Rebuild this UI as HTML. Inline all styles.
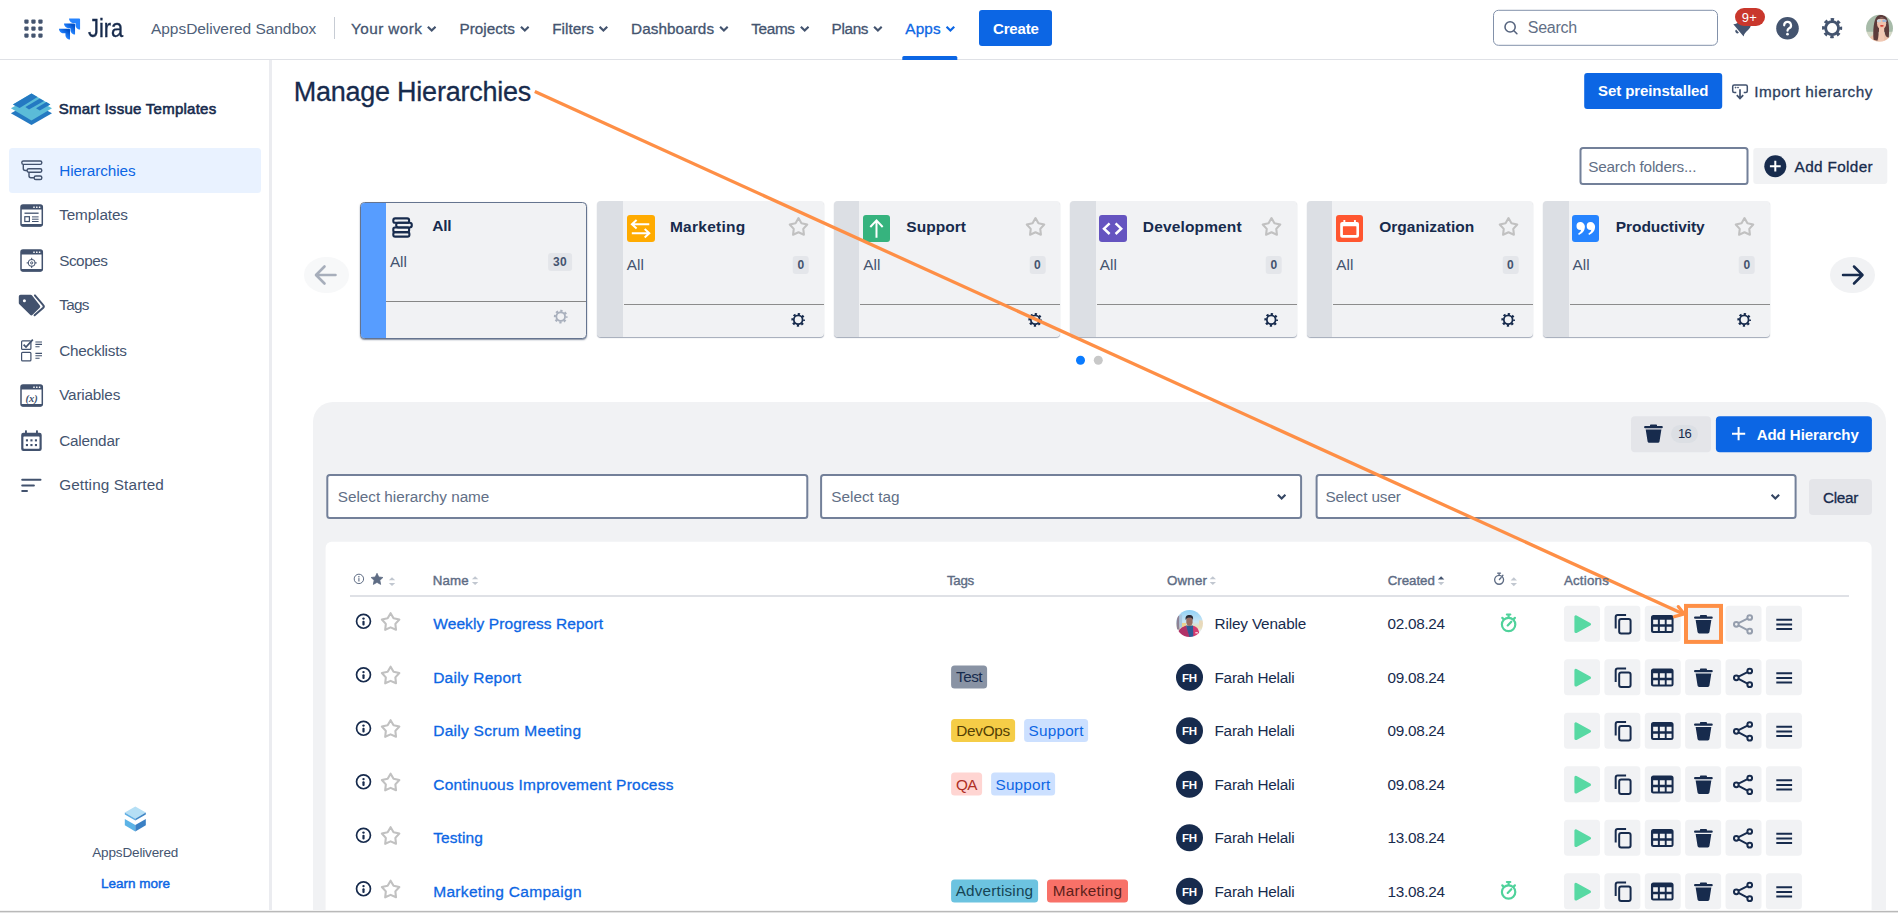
<!DOCTYPE html>
<html><head><meta charset="utf-8"><title>Manage Hierarchies</title>
<style>
*{box-sizing:border-box;margin:0;padding:0}
html,body{width:1898px;height:913px;overflow:hidden;background:#fff}
body{position:relative;font-family:"Liberation Sans",sans-serif;color:#172b4d}
.t{position:absolute;white-space:pre;line-height:20px;height:20px;display:block}
.a{position:absolute}
.btn{position:absolute;border-radius:3px}
.ab{position:absolute;width:36px;height:36px;border-radius:3.5px;background:#f1f2f4}
.ab svg{position:absolute;left:0;top:0;width:36px;height:36px}
.inp{position:absolute;background:#fff;border:2px solid #738099;border-radius:3.5px}
.card{position:absolute;top:201px;width:226.4px;height:135.7px;background:#f1f2f4;border-radius:4px;box-shadow:0 1px 1px rgba(9,30,66,.38);overflow:hidden}
.card .bar{position:absolute;left:0;top:0;bottom:0;width:25.5px;background:#dcdfe4}
.card .dv{position:absolute;left:26.5px;right:0;top:103px;height:1.3px;background:#8c8c8c}
.cic{position:absolute;left:29.1px;top:13.8px;width:27.2px;height:27.2px;border-radius:3px}
.cic svg{position:absolute;left:0;top:0;width:27.2px;height:27.2px}
.cnt{position:absolute;background:#e4e6ea;border-radius:3px}
.tag{position:absolute;height:22.6px;border-radius:3.5px}
svg{overflow:visible}
</style></head><body>
<svg width="0" height="0" style="position:absolute"><defs>
<linearGradient id="jg1" x1="0.9" y1="0.1" x2="0.45" y2="0.6"><stop offset="0.18" stop-color="#0052cc"/><stop offset="1" stop-color="#2684ff"/></linearGradient>
<symbol id="i-play" viewBox="0 0 36 36"><path d="M11.9 11 L11.9 25.8 L25.5 18.4 Z" fill="#57d9a3" stroke="#57d9a3" stroke-width="3" stroke-linejoin="round"/></symbol>
<symbol id="i-copy" viewBox="0 0 36 36"><path d="M21.7 9.1 H13.3 a2 2 0 0 0 -2 2 V22.8" fill="none" stroke="#172b4d" stroke-width="2"/><rect x="14.8" y="13.1" width="11.4" height="14.6" rx="2" fill="none" stroke="#172b4d" stroke-width="2"/></symbol>
<symbol id="i-table" viewBox="0 0 36 36"><path fill-rule="evenodd" fill="#172b4d" d="M8.7 9.2 h17.6 a2.5 2.5 0 0 1 2.5 2.5 v13.1 a2.5 2.5 0 0 1 -2.5 2.5 h-17.6 a2.5 2.5 0 0 1 -2.5 -2.5 v-13.1 a2.5 2.5 0 0 1 2.5 -2.5 z M8.4 14 h4.7 v4.4 h-4.7 z M15.1 14 h4.9 v4.4 h-4.9 z M21.9 14 h4.9 v4.4 h-4.9 z M8.4 20.9 h4.7 v4.3 h-4.7 z M15.1 20.9 h4.9 v4.3 h-4.9 z M21.9 20.9 h4.9 v4.3 h-4.9 z"/></symbol>
<symbol id="i-trash" viewBox="0 0 36 36"><path fill="#172b4d" d="M9.9 10.7 h16.7 a1 1 0 0 1 1 1 v0.3 a1 1 0 0 1 -1 1 h-16.7 a1 1 0 0 1 -1 -1 v-0.3 a1 1 0 0 1 1 -1 z M15.6 9.2 h5.4 a0.8 0.8 0 0 1 0.8 0.8 v0.7 h-7 v-0.7 a0.8 0.8 0 0 1 0.8 -0.8 z M10.5 14.3 h15.7 l-1.9 11.9 a1.6 1.6 0 0 1 -1.6 1.4 h-8.7 a1.6 1.6 0 0 1 -1.6 -1.4 z"/></symbol>
<symbol id="i-share" viewBox="0 0 36 36"><g fill="none" stroke="#172b4d" stroke-width="2"><circle cx="24.2" cy="11.7" r="2.35"/><circle cx="10.8" cy="18.5" r="2.35"/><circle cx="24.2" cy="25.4" r="2.35"/><path d="M13 17.4 L22 12.8 M13 19.6 L22 24.3"/></g></symbol>
<symbol id="i-menu" viewBox="0 0 36 36"><path fill="#172b4d" d="M10.4 12.9 h15.8 v2.1 h-15.8 z M10.4 17.6 h15.8 v2.1 h-15.8 z M10.4 22.2 h15.8 v2.1 h-15.8 z"/></symbol>
<symbol id="i-star" viewBox="-12 -12 24 24"><path d="M0.00 -9.20 L2.94 -4.05 L8.75 -2.84 L4.76 1.55 L5.41 7.44 L0.00 5.00 L-5.41 7.44 L-4.76 1.55 L-8.75 -2.84 L-2.94 -4.05 Z" fill="none" stroke="#c1c1c1" stroke-width="2.1" stroke-linejoin="round"/></symbol>
<symbol id="i-info" viewBox="-10 -10 20 20"><circle r="6.95" fill="none" stroke="#172b4d" stroke-width="1.7"/><circle cy="-2.7" r="1.2" fill="#172b4d"/><rect x="-1.1" y="-0.5" width="2.2" height="4.7" rx="1" fill="#172b4d"/></symbol>
<symbol id="i-watch" viewBox="-12 -12 24 24"><g fill="none" stroke="currentColor" stroke-width="2.2" stroke-linecap="round"><circle r="6.7"/><path d="M-1.7 -10 H1.7 M0 -10 V-7.4 M-0.9 0.9 L2.7 -2.8 M-6.3 -6.6 L-5.3 -5.6 M6.3 -6.6 L5.3 -5.6"/></g></symbol>
<symbol id="i-gear" viewBox="-10 -10 20 20"><g fill="none" stroke="currentColor"><circle r="4.6" stroke-width="1.9"/><circle r="6.1" stroke-width="2.2" stroke-dasharray="2.4 2.39" stroke-dashoffset="1.2"/></g></symbol>
<symbol id="i-chev" viewBox="0 0 10 7"><path d="M1 1.3 L5 5.2 L9 1.3" fill="none" stroke="currentColor" stroke-width="2.3"/></symbol>
</defs></svg>
<div class="a" style="left:0;top:0;width:1898px;height:59px;background:#fff;border-bottom:1px solid #dfe1e6;height:60px"></div>
<svg class="a" style="left:0;top:0" width="60" height="60" fill="#44546f"><rect x="24.3" y="19.4" width="4.3" height="4.3" rx="1.1"/><rect x="31.3" y="19.4" width="4.3" height="4.3" rx="1.1"/><rect x="38.3" y="19.4" width="4.3" height="4.3" rx="1.1"/><rect x="24.3" y="26.4" width="4.3" height="4.3" rx="1.1"/><rect x="31.3" y="26.4" width="4.3" height="4.3" rx="1.1"/><rect x="38.3" y="26.4" width="4.3" height="4.3" rx="1.1"/><rect x="24.3" y="33.4" width="4.3" height="4.3" rx="1.1"/><rect x="31.3" y="33.4" width="4.3" height="4.3" rx="1.1"/><rect x="38.3" y="33.4" width="4.3" height="4.3" rx="1.1"/></svg>
<svg class="a" style="left:56px;top:16px;transform:translate(0.50px,0.10px);" width="26" height="26" viewBox="0 0 32 32"><g transform="scale(0.997)">
<path d="M28.04 3 H15.5 c0 3.11 2.54 5.65 5.65 5.65 h2.31 v2.23 c0 3.11 2.53 5.64 5.64 5.64 V4.08 C29.1 3.49 28.61 3 28.04 3" fill="#2684ff"/>
<path d="M21.82 9.24 H9.29 c0 3.11 2.54 5.65 5.65 5.65 h2.31 v2.23 c0 3.11 2.53 5.64 5.64 5.64 V10.32 c0-.59-.49-1.08-1.07-1.08" fill="url(#jg1)"/>
<path d="M15.61 15.49 H3.08 c0 3.11 2.54 5.65 5.65 5.65 h2.31 v2.23 c0 3.11 2.53 5.64 5.64 5.64 V16.56 c0-.59-.49-1.07-1.07-1.07" fill="url(#jg1)"/></g></svg>
<div class="a" style="left:334px;top:17px;width:1px;height:22px;background:#c7ccd4"></div>
<svg class="a" style="left:426px;top:25px;transform:translate(0.90px,0.50px);color:#44546f" width="9.6" height="6.72"><use href="#i-chev"/></svg>
<svg class="a" style="left:520px;top:25px;transform:translate(0.00px,0.50px);color:#44546f" width="9.6" height="6.72"><use href="#i-chev"/></svg>
<svg class="a" style="left:598px;top:25px;transform:translate(0.60px,0.50px);color:#44546f" width="9.6" height="6.72"><use href="#i-chev"/></svg>
<svg class="a" style="left:719px;top:25px;transform:translate(0.10px,0.50px);color:#44546f" width="9.6" height="6.72"><use href="#i-chev"/></svg>
<svg class="a" style="left:799px;top:25px;transform:translate(0.90px,0.50px);color:#44546f" width="9.6" height="6.72"><use href="#i-chev"/></svg>
<svg class="a" style="left:873px;top:25px;transform:translate(0.10px,0.50px);color:#44546f" width="9.6" height="6.72"><use href="#i-chev"/></svg>
<svg class="a" style="left:945px;top:25px;transform:translate(0.60px,0.50px);color:#0c66e4" width="9.6" height="6.72"><use href="#i-chev"/></svg>
<div class="a" style="left:902px;top:56px;transform:translate(0.30px,0.00px);width:54.6px;height:3.5px;background:#0c66e4;border-radius:1.5px 1.5px 0 0"></div>
<div class="btn" style="left:979px;top:10px;width:73.2px;height:36px;background:#0c66e4"></div>
<div class="a" style="left:1493px;top:9px;transform:translate(0.00px,0.80px);width:225px;height:36.2px;border:1.2px solid #8291aa;border-radius:5.5px;background:#fff"></div>
<svg class="a" style="left:1500px;top:18px;" width="20" height="20" fill="none" stroke="#56647e" stroke-width="1.55" stroke-linecap="round"><circle cx="10.1" cy="8.9" r="5.1"/><path d="M13.9 12.7 L16.9 15.8"/></svg>
<svg class="a" style="left:1728px;top:14px;" width="30" height="30"><g transform="translate(14.3,13.1) rotate(50)" fill="#44546f"><path d="M-8 5 C-6.3 3 -6 0.5 -6 -2.5 C-6 -7 -3.3 -9.3 0 -9.3 C3.3 -9.3 6 -7 6 -2.5 C6 0.5 6.3 3 8 5 Z"/><path d="M-2.2 6.3 h4.4 a2.2 2.2 0 0 1 -4.4 0z"/></g></svg>
<div class="a" style="left:1735px;top:8px;width:30.2px;height:18px;border-radius:9px;background:#c9372c"></div>
<svg class="a" style="left:1775px;top:16px;" width="25" height="25"><circle cx="12.5" cy="12.2" r="11.3" fill="#44546f"/><path d="M9.2 9.3 a3.4 3.4 0 1 1 4.9 3 c-1.1 .6 -1.6 1.1 -1.6 2.4" fill="none" stroke="#fff" stroke-width="2.2" stroke-linecap="round"/><circle cx="12.5" cy="18.2" r="1.35" fill="#fff"/></svg>
<svg class="a" style="left:1820px;top:16px;transform:translate(0.10px,0.10px);color:#44546f" width="24" height="24" viewBox="-10 -10 20 20"><g fill="none" stroke="currentColor"><circle r="5.4" stroke-width="2.4"/><circle r="7.2" stroke-width="2.4" stroke-dasharray="2.83 2.825" stroke-dashoffset="1.41"/></g></svg>
<svg class="a" style="left:1866px;top:14px;transform:translate(0.00px,0.70px);" width="27" height="27.2" viewBox="0 0 27 27"><defs><clipPath id="av1"><circle cx="13.5" cy="13.5" r="13.45"/></clipPath><filter id="bl" x="-10%" y="-10%" width="120%" height="120%"><feGaussianBlur stdDeviation="0.45"/></filter></defs><g clip-path="url(#av1)"><g filter="url(#bl)">
<rect x="-2" y="-2" width="31" height="31" fill="#a7bba9"/><rect x="-2" y="17" width="31" height="12" fill="#d3d8c6"/>
<path d="M2 27 C3 22 7 19.5 12 19 L19 19 C22 20 24 22.5 25 27 Z" fill="#eabfa8"/>
<path d="M7.6 25 C6.8 16 7.6 5 11 1.6 C13.5 -0.2 17.5 -0.2 19.6 1.6 C23 5 23.6 14 22.8 22.5 C21 23.5 19 21 18.5 17 L12.6 17 C12.6 21 12 24.5 11.4 26 Z" fill="#5b3b3b"/>
<ellipse cx="15.6" cy="8.4" rx="4.6" ry="6" fill="#efc2ad"/>
<path d="M13 13 H18.2 V27 H13 Z" fill="#f1c8b3"/>
<path d="M10.6 4.6 C12 2.2 19 2 20.6 4.6 C19 3.8 12.4 3.8 10.6 4.6Z" fill="#5b3b3b"/>
<rect x="10.9" y="4.8" width="4.3" height="2.7" rx="1.2" fill="#c9d3dd"/><rect x="16.3" y="4.6" width="4.3" height="2.7" rx="1.2" fill="#9fb6d6"/>
<ellipse cx="15.9" cy="11" rx="1.9" ry=".85" fill="#d63a30"/>
</g></g></svg>
<div class="a" style="left:269px;top:60px;width:3px;height:853px;background:#ebecf0"></div>
<div class="a" style="left:9px;top:148px;width:252px;height:44.7px;background:#e9f2ff;border-radius:3.5px"></div><svg class="a" style="left:0;top:85px" width="60" height="50">
<path d="M10.9 28.3 L31.5 17 L52 28.3 L31.5 40.1 Z" fill="#2479c2"/>
<path d="M10.9 23.2 L31.5 12 L52 23.2 L31.5 35.5 Z" fill="#5bbcd8"/>
<path d="M12.9 19.4 L31.5 8.5 L50.3 19.4 L31.5 30 Z" fill="#5bbcd8"/>
<path d="M31.5 8.5 L37.5 12 L19.6 22.9 L12.9 19.4 Z" fill="#2479c2"/>
<path d="M39.8 13.6 L44 16 L29 24.4 L25.4 22 Z" fill="#2479c2"/>
<path d="M46.4 17.1 L50.3 19.4 L39.8 25.6 L36 23.3 Z" fill="#2479c2"/>
</svg>
<svg class="a" style="left:0;top:150px" width="60" height="45" fill="none" stroke="#42526e" stroke-width="1.4">
<rect x="21.8" y="11" width="20" height="3.4" rx="1.6"/><rect x="27.1" y="18.8" width="14.7" height="3.4" rx="1.6"/><rect x="34.2" y="26" width="7.6" height="3.5" rx="1.6"/>
<path d="M23.3 14.4 V18.5 a2 2 0 0 0 2 2 H27 M29 22.2 V25.8 a2 2 0 0 0 2 2 H34"/></svg>
<svg class="a" style="left:0;top:199.6px" width="60" height="30"><rect x="21" y="5.1" width="21.3" height="20.9" rx="2" fill="#fff" stroke="#42526e" stroke-width="1.5"/><path d="M21 7.1 a2 2 0 0 1 2 -2 h17.3 a2 2 0 0 1 2 2 v2.4 h-21.3z M21 24 h21.3 v.4 a2 2 0 0 1 -2 2 h-17.3 a2 2 0 0 1 -2 -2z" fill="#42526e"/><g fill="#fff"><rect x="33.2" y="6.4" width="1.6" height="1.5" rx=".4"/><rect x="36" y="6.4" width="1.6" height="1.5" rx=".4"/><rect x="38.8" y="6.4" width="1.6" height="1.5" rx=".4"/></g><g stroke="#42526e" fill="none"><path d="M24.5 13.2 H38.6" stroke-width="1.3"/><rect x="24.8" y="16.7" width="4.6" height="4.8" stroke-width="1.2"/><path d="M32 16.9 H38.6 M32 19.2 H38.6 M32 21.5 H38.6" stroke-width="1"/></g></svg>
<svg class="a" style="left:0;top:244.6px" width="60" height="30"><rect x="21" y="5.1" width="21.3" height="20.9" rx="2" fill="#fff" stroke="#42526e" stroke-width="1.5"/><path d="M21 7.1 a2 2 0 0 1 2 -2 h17.3 a2 2 0 0 1 2 2 v2.4 h-21.3z M21 24 h21.3 v.4 a2 2 0 0 1 -2 2 h-17.3 a2 2 0 0 1 -2 -2z" fill="#42526e"/><g fill="#fff"><rect x="33.2" y="6.4" width="1.6" height="1.5" rx=".4"/><rect x="36" y="6.4" width="1.6" height="1.5" rx=".4"/><rect x="38.8" y="6.4" width="1.6" height="1.5" rx=".4"/></g><g stroke="#42526e" fill="none" stroke-width="1"><circle cx="31.7" cy="17.9" r="3.5"/><circle cx="31.7" cy="17.9" r="1.1"/><path d="M31.7 12.8 V15.2 M31.7 20.6 V23 M26.6 17.9 H29 M34.4 17.9 H36.8"/></g></svg>
<svg class="a" style="left:0;top:285px" width="60" height="40"><path d="M20.6 9.8 H30.6 a1.8 1.8 0 0 1 1.3 .5 L39.7 20.2 a1.8 1.8 0 0 1 0 2.5 L32.6 29.8 a1.8 1.8 0 0 1 -2.5 0 L19.4 19.3 a1.8 1.8 0 0 1 -.6 -1.3 V11.6 a1.8 1.8 0 0 1 1.8 -1.8z" fill="#42526e"/><circle cx="24.4" cy="15.8" r="1.5" fill="#fff"/><path d="M34.9 10.4 L43.2 20.2 a1.8 1.8 0 0 1 0 2.5 L34.6 30.3" fill="none" stroke="#42526e" stroke-width="2" stroke-linecap="round"/></svg>
<svg class="a" style="left:0;top:330px" width="60" height="40" fill="none" stroke="#42526e"><rect x="21.6" y="10.8" width="9.3" height="8.6" rx="1" stroke-width="1.2"/><rect x="21.6" y="22.3" width="9.3" height="8.6" rx="1" stroke-width="1.2"/><path d="M23.6 14.6 L26 17 L32.8 9.6" stroke-width="1.7"/><path d="M35.4 12 H42 M35.4 14.4 H42 M35.4 16.7 H39.6 M35.4 23.4 H42 M35.4 25.8 H42 M35.4 28.2 H39.6" stroke-width="1.1"/></svg>
<svg class="a" style="left:0;top:379.6px" width="60" height="30"><rect x="21" y="5.1" width="21.3" height="20.9" rx="2" fill="#fff" stroke="#42526e" stroke-width="1.5"/><path d="M21 7.1 a2 2 0 0 1 2 -2 h17.3 a2 2 0 0 1 2 2 v2.4 h-21.3z M21 24 h21.3 v.4 a2 2 0 0 1 -2 2 h-17.3 a2 2 0 0 1 -2 -2z" fill="#42526e"/><g fill="#fff"><rect x="33.2" y="6.4" width="1.6" height="1.5" rx=".4"/><rect x="36" y="6.4" width="1.6" height="1.5" rx=".4"/><rect x="38.8" y="6.4" width="1.6" height="1.5" rx=".4"/></g><text x="31.7" y="21.8" text-anchor="middle" font-family="Liberation Serif" font-style="italic" font-weight="700" font-size="10.5" fill="#42526e">(x)</text></svg>
<svg class="a" style="left:0;top:420px" width="60" height="40"><rect x="21.2" y="12.7" width="20.5" height="18.2" rx="2.2" fill="#42526e"/><rect x="25" y="10.3" width="1.9" height="4" rx=".6" fill="#42526e"/><rect x="36" y="10.3" width="1.9" height="4" rx=".6" fill="#42526e"/><rect x="23.4" y="16.4" width="16.1" height="12.3" rx=".6" fill="#fff"/><g fill="#42526e"><rect x="25.9" y="19.3" width="2.1" height="2.1"/><rect x="30.4" y="19.3" width="2.1" height="2.1"/><rect x="34.9" y="19.3" width="2.1" height="2.1"/><rect x="25.9" y="24" width="2.1" height="2.1"/><rect x="30.4" y="24" width="2.1" height="2.1"/><rect x="34.9" y="24" width="2.1" height="2.1"/></g></svg>
<svg class="a" style="left:0;top:465px" width="60" height="40" stroke="#42526e" stroke-width="2" stroke-linecap="round"><path d="M22.2 14.8 H40.5 M22.2 20.5 H33.9 M22.2 26.1 H27"/></svg>
<svg class="a" style="left:120px;top:800px;" width="30" height="36">
<path d="M15.3 6.6 L25.8 12.6 L15.3 18.8 L4.8 12.6 Z" fill="#b5dff5"/>
<path d="M4.8 12.6 L15.3 18.8 V20.6 L4.8 14.6 Z" fill="#5faee3"/><path d="M25.8 12.6 L15.3 18.8 V20.6 L25.8 14.6 Z" fill="#3f86c6"/>
<path d="M4.8 19 L15.3 25 V31.4 L4.8 25.3 Z" fill="#5cb3e6"/><path d="M25.8 19 L15.3 25 V31.4 L25.8 25.3 Z" fill="#3a80c4"/>
</svg>
<div class="btn" style="left:1584px;top:73px;transform:translate(0.20px,0.00px);width:137.8px;height:35.5px;background:#0c66e4"></div>
<svg class="a" style="left:1730px;top:82px;" width="20" height="20" fill="none" stroke="#42526e" stroke-width="1.5"><path d="M6.3 10.5 H4.2 a1.5 1.5 0 0 1 -1.5 -1.5 V4.4 a1.5 1.5 0 0 1 1.5 -1.5 H15.8 a1.5 1.5 0 0 1 1.5 1.5 V9 a1.5 1.5 0 0 1 -1.5 1.5 H13.7"/><path d="M10 7.3 V16.2 M6.8 13.2 L10 16.6 L13.2 13.2" stroke-width="1.7"/><circle cx="5.6" cy="5.6" r=".5" fill="#42526e" stroke-width=".8"/><circle cx="8" cy="5.6" r=".5" fill="#42526e" stroke-width=".8"/></svg>
<div class="inp" style="left:1579px;top:147px;transform:translate(0.50px,0.00px);width:168.5px;height:38px"></div>
<div class="btn" style="left:1753px;top:147px;transform:translate(0.30px,0.90px);width:133.7px;height:35.9px;background:#f1f2f4"></div>
<svg class="a" style="left:1764px;top:155px;" width="23" height="23"><circle cx="11.3" cy="11.2" r="11" fill="#172b4d"/><path d="M11.3 5.8 V16.6 M5.9 11.2 H16.7" stroke="#fff" stroke-width="2"/></svg>
<div class="a" style="left:304px;top:257px;width:45px;height:36.2px;border-radius:50%;background:#f7f8f9"></div>
<svg class="a" style="left:304px;top:257px;" width="45" height="36" fill="none" stroke="#a7aebb" stroke-width="2.6" stroke-linecap="round" stroke-linejoin="round"><path d="M31.5 18 H12.5 M20.5 9.5 L12 18 L20.5 26.5"/></svg>
<div class="a" style="left:1830px;top:257px;width:45px;height:36.2px;border-radius:50%;background:#f1f2f4"></div>
<svg class="a" style="left:1830px;top:257px;" width="45" height="36" fill="none" stroke="#172b4d" stroke-width="2.5" stroke-linecap="round" stroke-linejoin="round"><path d="M13 18 H32 M24 9.5 L32.5 18 L24 26.5"/></svg>
<div class="a" style="left:360px;top:202px;width:227px;height:137px;background:#f1f2f4;border:1px solid #65748f;border-radius:4.5px;box-shadow:0 1px 1.5px rgba(9,30,66,.5);overflow:hidden">
<div class="a" style="left:0;top:0;bottom:0;width:25px;background:#579dff"></div>
<div class="a" style="left:25px;right:0;top:98px;height:1px;background:#868686"></div>
</div>
<svg class="a" style="left:388px;top:214px;" width="28" height="28" fill="none" stroke="#172b4d" stroke-width="2.1"><rect x="5.3" y="4.4" width="15.8" height="4.4" rx="1.9"/><rect x="8.2" y="8.8" width="15.6" height="4.7" rx="2.2"/><rect x="5.3" y="13.5" width="15.8" height="4.6" rx="1.5"/><rect x="5.3" y="18.1" width="16.1" height="4.5" rx="1.9"/></svg>
<div class="cnt" style="left:548px;top:253px;transform:translate(0.10px,0.00px);width:23.8px;height:18px"></div>
<svg class="a" style="left:551px;top:307px;transform:translate(0.20px,0.10px);color:#a9b0bd" width="19" height="19"><use href="#i-gear"/></svg>
<div class="card" style="left:597.40px"><div class="bar"></div><div class="dv"></div>
<div class="cic" style="background:#ffab00;left:30px"><svg viewBox="0 0 27.2 27.2"><g fill="none" stroke="#fff" stroke-width="2"><path d="M22.3 9.2 H5.2 M9.6 5 L4.9 9.2 L9.6 13.4 M4.8 18.2 H22 M17.7 14 L22.3 18.2 L17.7 22.4"/></g></svg></div>
<svg class="a" style="left:189px;top:14px;transform:translate(0.50px,0.30px);" width="24" height="24"><use href="#i-star"/></svg>
<div class="cnt" style="left:195px;top:55px;transform:translate(0.70px,0.00px);width:15.8px;height:17.6px"></div>
<svg class="a" style="left:191px;top:109px;transform:translate(0.70px,0.30px);color:#172b4d" width="19" height="19"><use href="#i-gear"/></svg>
</div>
<div class="card" style="left:833.85px"><div class="bar"></div><div class="dv"></div>
<div class="cic" style="background:#36b37e"><svg viewBox="0 0 27.2 27.2"><g fill="none" stroke="#fff" stroke-width="2"><path d="M13.5 22.8 V5.6 M7.3 12 L13.5 5.4 L19.7 12"/></g></svg></div>
<svg class="a" style="left:189px;top:14px;transform:translate(0.50px,0.30px);" width="24" height="24"><use href="#i-star"/></svg>
<div class="cnt" style="left:195px;top:55px;transform:translate(0.70px,0.00px);width:15.8px;height:17.6px"></div>
<svg class="a" style="left:191px;top:109px;transform:translate(0.70px,0.30px);color:#172b4d" width="19" height="19"><use href="#i-gear"/></svg>
</div>
<div class="card" style="left:1070.30px"><div class="bar"></div><div class="dv"></div>
<div class="cic" style="background:#6554c0"><svg viewBox="0 0 27.2 27.2"><g fill="none" stroke="#fff" stroke-width="2.5"><path d="M10.6 8.4 L5 13.7 L10.6 19 M16.6 8.4 L22.2 13.7 L16.6 19"/></g></svg></div>
<svg class="a" style="left:189px;top:14px;transform:translate(0.50px,0.30px);" width="24" height="24"><use href="#i-star"/></svg>
<div class="cnt" style="left:195px;top:55px;transform:translate(0.70px,0.00px);width:15.8px;height:17.6px"></div>
<svg class="a" style="left:191px;top:109px;transform:translate(0.70px,0.30px);color:#172b4d" width="19" height="19"><use href="#i-gear"/></svg>
</div>
<div class="card" style="left:1306.75px"><div class="bar"></div><div class="dv"></div>
<div class="cic" style="background:#ff5630"><svg viewBox="0 0 27.2 27.2"><rect x="4.2" y="7.1" width="18.8" height="15.6" rx="2" fill="#fff"/><rect x="7.4" y="5" width="1.9" height="3.5" rx=".5" fill="#fff"/><rect x="18" y="5" width="1.9" height="3.5" rx=".5" fill="#fff"/><rect x="6.9" y="11.3" width="13.5" height="8.7" rx=".5" fill="#ff5630"/></svg></div>
<svg class="a" style="left:189px;top:14px;transform:translate(0.50px,0.30px);" width="24" height="24"><use href="#i-star"/></svg>
<div class="cnt" style="left:195px;top:55px;transform:translate(0.70px,0.00px);width:15.8px;height:17.6px"></div>
<svg class="a" style="left:191px;top:109px;transform:translate(0.70px,0.30px);color:#172b4d" width="19" height="19"><use href="#i-gear"/></svg>
</div>
<div class="card" style="left:1543.20px"><div class="bar"></div><div class="dv"></div>
<div class="cic" style="background:#2684ff"><svg viewBox="0 0 27.2 27.2"><g fill="#fff"><path d="M8.4 7.1 a4.5 4.5 0 0 1 4.5 4.5 c0 4.2 -2.5 7 -6 8.4 l-.8 -1.2 c1.8 -1.2 2.7 -2.4 3 -4 a4.4 4.4 0 0 1 -.7 .1 a3.9 3.9 0 0 1 0 -7.8z"/><path d="M18.6 7.1 a4.5 4.5 0 0 1 4.5 4.5 c0 4.2 -2.5 7 -6 8.4 l-.8 -1.2 c1.8 -1.2 2.7 -2.4 3 -4 a4.4 4.4 0 0 1 -.7 .1 a3.9 3.9 0 0 1 0 -7.8z"/></g></svg></div>
<svg class="a" style="left:189px;top:14px;transform:translate(0.50px,0.30px);" width="24" height="24"><use href="#i-star"/></svg>
<div class="cnt" style="left:195px;top:55px;transform:translate(0.70px,0.00px);width:15.8px;height:17.6px"></div>
<svg class="a" style="left:191px;top:109px;transform:translate(0.70px,0.30px);color:#172b4d" width="19" height="19"><use href="#i-gear"/></svg>
</div>
<div class="a" style="left:1076px;top:355px;transform:translate(0.00px,0.80px);width:9.2px;height:9.2px;border-radius:50%;background:#0a7bff"></div>
<div class="a" style="left:1093px;top:355px;transform:translate(0.80px,0.80px);width:9.2px;height:9.2px;border-radius:50%;background:#c8c8c8"></div><div class="a" style="left:313px;top:402px;width:1572.6px;height:520px;background:#f1f2f4;border-radius:20px 20px 0 0"></div>
<div class="a" style="left:325px;top:541px;transform:translate(0.60px,0.70px);width:1546.2px;height:380px;background:#fff;border-radius:6px 6px 0 0"></div>
<div class="btn" style="left:1631px;top:416px;transform:translate(0.00px,0.20px);width:80px;height:35.8px;background:#e4e5e9;border-radius:4px"></div>
<svg class="a" style="left:1635px;top:415px;transform:translate(0.20px,0.20px);" width="36" height="36"><use href="#i-trash"/></svg>
<div class="a" style="left:1671px;top:424px;transform:translate(0.00px,0.90px);width:27.1px;height:18px;border-radius:9px;background:#dcdfe4"></div>
<div class="btn" style="left:1715px;top:416px;transform:translate(0.90px,0.20px);width:156.2px;height:35.8px;background:#0c66e4;border-radius:4px"></div>
<svg class="a" style="left:1730px;top:425px;" width="18" height="18" stroke="#fff" stroke-width="2"><path d="M8.6 2.1 V15.3 M2 8.7 H15.2"/></svg>
<div class="inp" style="left:326px;top:474px;transform:translate(0.30px,0.10px);width:482.4px;height:44.5px"></div>
<div class="inp" style="left:820px;top:474px;transform:translate(0.10px,0.10px);width:482px;height:44.5px"></div>
<div class="inp" style="left:1315px;top:474px;transform:translate(0.60px,0.10px);width:481.3px;height:44.5px"></div>
<svg class="a" style="left:1276px;top:493px;transform:translate(0.90px,0.60px);color:#344563" width="9.5" height="6.6"><use href="#i-chev"/></svg>
<svg class="a" style="left:1770px;top:493px;transform:translate(0.60px,0.60px);color:#344563" width="9.5" height="6.6"><use href="#i-chev"/></svg>
<div class="btn" style="left:1809px;top:479px;transform:translate(0.00px,0.10px);width:63.1px;height:35.9px;background:#e4e5e9;border-radius:4px"></div>
<div class="a" style="left:350px;top:595px;width:1499px;height:2px;background:#dfe1e6"></div>
<svg class="a" style="left:352px;top:572px;transform:translate(0.90px,0.90px);" width="12" height="12"><circle cx="6" cy="6" r="4.7" fill="none" stroke="#5e6c84" stroke-width="1"/><circle cx="6" cy="3.9" r=".75" fill="#5e6c84"/><rect x="5.45" y="5.2" width="1.1" height="3.4" fill="#5e6c84"/></svg>
<svg class="a" style="left:370px;top:572px;transform:translate(0.50px,0.60px);" width="13" height="13" viewBox="-6.5 -6.5 13 13"><path d="M0 -5.8 L1.75 -2.1 L5.9 -1.6 L2.85 1.2 L3.65 5.3 L0 3.25 L-3.65 5.3 L-2.85 1.2 L-5.9 -1.6 L-1.75 -2.1 Z" fill="#5e6c84" stroke="#5e6c84" stroke-width=".8" stroke-linejoin="round"/></svg>
<svg class="a" style="left:388px;top:577px;transform:translate(0.80px,0.20px);" width="6.4" height="9"><path d="M0 3.1 L3.2 0 L6.4 3.1 Z" fill="#c1c7d0"/><path d="M0 5.8 L3.2 8.9 L6.4 5.8 Z" fill="#c1c7d0"/></svg>
<svg class="a" style="left:471px;top:576px;transform:translate(0.90px,0.20px);" width="6.4" height="9"><path d="M0 3.1 L3.2 0 L6.4 3.1 Z" fill="#c1c7d0"/><path d="M0 5.8 L3.2 8.9 L6.4 5.8 Z" fill="#c1c7d0"/></svg>
<svg class="a" style="left:1209px;top:576px;transform:translate(0.60px,0.20px);" width="6.4" height="9"><path d="M0 3.1 L3.2 0 L6.4 3.1 Z" fill="#c1c7d0"/><path d="M0 5.8 L3.2 8.9 L6.4 5.8 Z" fill="#c1c7d0"/></svg>
<svg class="a" style="left:1437px;top:576px;transform:translate(0.90px,0.30px);" width="6.4" height="9"><path d="M0 3.1 L3.2 0 L6.4 3.1 Z" fill="#44546f"/><path d="M0 5.8 L3.2 8.9 L6.4 5.8 Z" fill="#c1c7d0"/></svg>
<svg class="a" style="left:1510px;top:577px;transform:translate(0.60px,0.30px);" width="6.4" height="9"><path d="M0 3.1 L3.2 0 L6.4 3.1 Z" fill="#c1c7d0"/><path d="M0 5.8 L3.2 8.9 L6.4 5.8 Z" fill="#c1c7d0"/></svg>
<svg class="a" style="left:1490px;top:570px;transform:translate(0.60px,0.60px);color:#5e6c84" width="17" height="17" viewBox="-12 -12 24 24"><g fill="none" stroke="currentColor" stroke-width="1.85" stroke-linecap="round"><circle cy="1" r="6.3"/><path d="M-2 -8.4 H2 M0 -8.4 V-5.6 M0.4 0.6 L3 -2.2 M5.4 -5.4 L4.6 -4.4"/></g></svg>
<svg class="a" style="left:353px;top:611px;transform:translate(0.50px,0.30px);" width="20" height="20"><use href="#i-info"/></svg>
<svg class="a" style="left:378px;top:610px;transform:translate(0.60px,0.35px);" width="24" height="24"><use href="#i-star"/></svg>
<svg class="a" style="left:1176px;top:609px;transform:translate(0.00px,0.90px);" width="27" height="27.2" viewBox="0 0 27 27"><defs><clipPath id="av2"><circle cx="13.5" cy="13.5" r="13.45"/></clipPath><linearGradient id="sky" x1="0" y1="0" x2="0" y2="1"><stop offset="0" stop-color="#86cdf6"/><stop offset=".45" stop-color="#c9e6f5"/><stop offset=".62" stop-color="#e9ddb5"/><stop offset=".75" stop-color="#e3ebee"/></linearGradient></defs><g clip-path="url(#av2)"><g filter="url(#bl)"><rect x="-2" y="-2" width="31" height="31" fill="url(#sky)"/>
<rect x="0.6" y="5.6" width="2.9" height="14" fill="#8d8296"/><rect x="3.5" y="4.5" width="2.6" height="13" fill="#a9c6df"/><rect x="23" y="10.4" width="4" height="6" fill="#e8d9bb"/><rect x="6" y="13" width="4" height="4" fill="#ecd28f"/>
<path d="M1.6 27 C1.6 20.5 4 18.2 9.8 15.8 L13.5 21 L17.2 15.8 C21.5 17.2 23.2 19 23.6 27 Z" fill="#d63a70"/><path d="M1.6 27 C1.6 20.5 4 18.2 9.8 15.8 L13.5 27 Z" fill="#b03268"/>
<path d="M9.9 15.6 L13.6 27.5 H17.4 L17 15.6 Z" fill="#2f5c97"/>
<rect x="19.3" y="22.2" width="2.6" height="1.2" fill="#f4e9f0"/>
<path d="M10.3 9 C10.3 7 16.6 7 16.6 9 V12.2 C16.6 14.6 15 16 13.5 16 C12 16 10.3 14.6 10.3 12.2 Z" fill="#9a6e63"/>
<path d="M9.7 10 C9 6.2 11 5 13.4 5 C16 5 17.6 6.2 17 10 C16.6 8.4 15.6 7.8 13.4 7.8 C11.4 7.8 10.2 8.4 9.7 10Z" fill="#2a2832"/>
</g></g></svg>
<svg class="a" style="left:1496px;top:612px;transform:translate(0.60px,0.50px);color:#4fd29b" width="24" height="24"><use href="#i-watch"/></svg>
<div class="ab" style="left:1564px;top:605px;transform:translate(0.00px,0.80px);"><svg><use href="#i-play"/></svg></div>
<div class="ab" style="left:1604px;top:605px;transform:translate(0.38px,0.80px);"><svg><use href="#i-copy"/></svg></div>
<div class="ab" style="left:1644px;top:605px;transform:translate(0.76px,0.80px);"><svg><use href="#i-table"/></svg></div>
<div class="ab" style="left:1685px;top:605px;transform:translate(0.14px,0.80px);"><svg><use href="#i-trash"/></svg></div>
<div class="ab" style="left:1725px;top:605px;transform:translate(0.52px,0.80px);"><svg style="opacity:.42"><use href="#i-share"/></svg></div>
<div class="ab" style="left:1765px;top:605px;transform:translate(0.90px,0.80px);"><svg><use href="#i-menu"/></svg></div>
<svg class="a" style="left:353px;top:664px;transform:translate(0.50px,0.80px);" width="20" height="20"><use href="#i-info"/></svg>
<svg class="a" style="left:378px;top:663px;transform:translate(0.60px,0.85px);" width="24" height="24"><use href="#i-star"/></svg>
<div class="tag" style="left:951px;top:665px;transform:translate(0.10px,0.60px);width:36px;background:#8993a4"></div>
<div class="a" style="left:1176px;top:663px;transform:translate(0.00px,0.70px);width:27px;height:27px;border-radius:50%;background:#172b4d"></div>
<div class="ab" style="left:1564px;top:659px;transform:translate(0.00px,0.30px);"><svg><use href="#i-play"/></svg></div>
<div class="ab" style="left:1604px;top:659px;transform:translate(0.38px,0.30px);"><svg><use href="#i-copy"/></svg></div>
<div class="ab" style="left:1644px;top:659px;transform:translate(0.76px,0.30px);"><svg><use href="#i-table"/></svg></div>
<div class="ab" style="left:1685px;top:659px;transform:translate(0.14px,0.30px);"><svg><use href="#i-trash"/></svg></div>
<div class="ab" style="left:1725px;top:659px;transform:translate(0.52px,0.30px);"><svg><use href="#i-share"/></svg></div>
<div class="ab" style="left:1765px;top:659px;transform:translate(0.90px,0.30px);"><svg><use href="#i-menu"/></svg></div>
<svg class="a" style="left:353px;top:718px;transform:translate(0.50px,0.30px);" width="20" height="20"><use href="#i-info"/></svg>
<svg class="a" style="left:378px;top:717px;transform:translate(0.60px,0.35px);" width="24" height="24"><use href="#i-star"/></svg>
<div class="tag" style="left:951px;top:719px;transform:translate(0.10px,0.10px);width:64px;background:#f5cd47"></div>
<div class="tag" style="left:1024px;top:719px;transform:translate(0.10px,0.10px);width:64px;background:#cce0ff"></div>
<div class="a" style="left:1176px;top:717px;transform:translate(0.00px,0.20px);width:27px;height:27px;border-radius:50%;background:#172b4d"></div>
<div class="ab" style="left:1564px;top:712px;transform:translate(0.00px,0.80px);"><svg><use href="#i-play"/></svg></div>
<div class="ab" style="left:1604px;top:712px;transform:translate(0.38px,0.80px);"><svg><use href="#i-copy"/></svg></div>
<div class="ab" style="left:1644px;top:712px;transform:translate(0.76px,0.80px);"><svg><use href="#i-table"/></svg></div>
<div class="ab" style="left:1685px;top:712px;transform:translate(0.14px,0.80px);"><svg><use href="#i-trash"/></svg></div>
<div class="ab" style="left:1725px;top:712px;transform:translate(0.52px,0.80px);"><svg><use href="#i-share"/></svg></div>
<div class="ab" style="left:1765px;top:712px;transform:translate(0.90px,0.80px);"><svg><use href="#i-menu"/></svg></div>
<svg class="a" style="left:353px;top:771px;transform:translate(0.50px,0.80px);" width="20" height="20"><use href="#i-info"/></svg>
<svg class="a" style="left:378px;top:770px;transform:translate(0.60px,0.85px);" width="24" height="24"><use href="#i-star"/></svg>
<div class="tag" style="left:951px;top:772px;transform:translate(0.10px,0.60px);width:30.8px;background:#ffd5d2"></div>
<div class="tag" style="left:991px;top:772px;transform:translate(0.10px,0.60px);width:63.7px;background:#cce0ff"></div>
<div class="a" style="left:1176px;top:770px;transform:translate(0.00px,0.70px);width:27px;height:27px;border-radius:50%;background:#172b4d"></div>
<div class="ab" style="left:1564px;top:766px;transform:translate(0.00px,0.30px);"><svg><use href="#i-play"/></svg></div>
<div class="ab" style="left:1604px;top:766px;transform:translate(0.38px,0.30px);"><svg><use href="#i-copy"/></svg></div>
<div class="ab" style="left:1644px;top:766px;transform:translate(0.76px,0.30px);"><svg><use href="#i-table"/></svg></div>
<div class="ab" style="left:1685px;top:766px;transform:translate(0.14px,0.30px);"><svg><use href="#i-trash"/></svg></div>
<div class="ab" style="left:1725px;top:766px;transform:translate(0.52px,0.30px);"><svg><use href="#i-share"/></svg></div>
<div class="ab" style="left:1765px;top:766px;transform:translate(0.90px,0.30px);"><svg><use href="#i-menu"/></svg></div>
<svg class="a" style="left:353px;top:825px;transform:translate(0.50px,0.30px);" width="20" height="20"><use href="#i-info"/></svg>
<svg class="a" style="left:378px;top:824px;transform:translate(0.60px,0.35px);" width="24" height="24"><use href="#i-star"/></svg>
<div class="a" style="left:1176px;top:824px;transform:translate(0.00px,0.20px);width:27px;height:27px;border-radius:50%;background:#172b4d"></div>
<div class="ab" style="left:1564px;top:819px;transform:translate(0.00px,0.80px);"><svg><use href="#i-play"/></svg></div>
<div class="ab" style="left:1604px;top:819px;transform:translate(0.38px,0.80px);"><svg><use href="#i-copy"/></svg></div>
<div class="ab" style="left:1644px;top:819px;transform:translate(0.76px,0.80px);"><svg><use href="#i-table"/></svg></div>
<div class="ab" style="left:1685px;top:819px;transform:translate(0.14px,0.80px);"><svg><use href="#i-trash"/></svg></div>
<div class="ab" style="left:1725px;top:819px;transform:translate(0.52px,0.80px);"><svg><use href="#i-share"/></svg></div>
<div class="ab" style="left:1765px;top:819px;transform:translate(0.90px,0.80px);"><svg><use href="#i-menu"/></svg></div>
<svg class="a" style="left:353px;top:878px;transform:translate(0.50px,0.80px);" width="20" height="20"><use href="#i-info"/></svg>
<svg class="a" style="left:378px;top:877px;transform:translate(0.60px,0.85px);" width="24" height="24"><use href="#i-star"/></svg>
<div class="tag" style="left:951px;top:879px;transform:translate(0.10px,0.60px);width:86.8px;background:#6cc3e0"></div>
<div class="tag" style="left:1047px;top:879px;transform:translate(0.00px,0.60px);width:81px;background:#f87168"></div>
<div class="a" style="left:1176px;top:877px;transform:translate(0.00px,0.70px);width:27px;height:27px;border-radius:50%;background:#172b4d"></div>
<svg class="a" style="left:1496px;top:880px;transform:translate(0.60px,0.00px);color:#4fd29b" width="24" height="24"><use href="#i-watch"/></svg>
<div class="ab" style="left:1564px;top:873px;transform:translate(0.00px,0.30px);"><svg><use href="#i-play"/></svg></div>
<div class="ab" style="left:1604px;top:873px;transform:translate(0.38px,0.30px);"><svg><use href="#i-copy"/></svg></div>
<div class="ab" style="left:1644px;top:873px;transform:translate(0.76px,0.30px);"><svg><use href="#i-table"/></svg></div>
<div class="ab" style="left:1685px;top:873px;transform:translate(0.14px,0.30px);"><svg><use href="#i-trash"/></svg></div>
<div class="ab" style="left:1725px;top:873px;transform:translate(0.52px,0.30px);"><svg><use href="#i-share"/></svg></div>
<div class="ab" style="left:1765px;top:873px;transform:translate(0.90px,0.30px);"><svg><use href="#i-menu"/></svg></div>
<svg class="a" style="left:0;top:0;pointer-events:none" width="1898" height="913" fill="none" stroke="#fe8f46">
<path d="M534.8 91.5 L1683.4 613.9" stroke-width="3.3"/>
<path d="M1678.3 606.6 L1684.2 614 L1674.4 616.6" stroke-width="3.2" stroke-linecap="round" stroke-linejoin="round"/>
<rect x="1686" y="605.9" width="35" height="36" stroke-width="4"/>
</svg>
<div class="a" style="left:0;top:910px;width:1898px;height:1px;background:#f3f3f3"></div>
<div class="a" style="left:0;top:911px;width:1898px;height:1px;background:#b9b9b9"></div>
<div class="a" style="left:0;top:912px;width:1898px;height:1px;background:#e3e3e3"></div>
<!-- text -->
<span class="t" style="left:88.3px;top:18.0px;font-size:25px;color:#172b4d;transform:scaleX(.875);transform-origin:0 0;-webkit-text-stroke:0.35px;">Jira</span>
<span class="t" style="left:151px;top:19px;font-size:15.5px;color:#505f79;letter-spacing:-0.048px;">AppsDelivered Sandbox</span>
<span class="t" style="left:351px;top:19px;transform:translate(0.10px,0.00px);font-size:15.3px;color:#44546f;letter-spacing:0.415px;-webkit-text-stroke:0.3px;">Your work</span>
<span class="t" style="left:459px;top:19px;transform:translate(0.40px,0.00px);font-size:15.3px;color:#44546f;letter-spacing:0.042px;-webkit-text-stroke:0.3px;">Projects</span>
<span class="t" style="left:552px;top:19px;transform:translate(0.20px,0.00px);font-size:15.3px;color:#44546f;letter-spacing:0.021px;-webkit-text-stroke:0.3px;">Filters</span>
<span class="t" style="left:631px;top:19px;transform:translate(0.10px,0.00px);font-size:15.3px;color:#44546f;letter-spacing:0.052px;-webkit-text-stroke:0.3px;">Dashboards</span>
<span class="t" style="left:751px;top:19px;transform:translate(0.20px,0.00px);font-size:15.3px;color:#44546f;letter-spacing:-0.312px;-webkit-text-stroke:0.3px;">Teams</span>
<span class="t" style="left:831px;top:19px;transform:translate(0.50px,0.00px);font-size:15.3px;color:#44546f;letter-spacing:-0.313px;-webkit-text-stroke:0.3px;">Plans</span>
<span class="t" style="left:905px;top:19px;transform:translate(0.30px,0.00px);font-size:15.3px;color:#0c66e4;letter-spacing:0.156px;-webkit-text-stroke:0.3px;">Apps</span>
<span class="t" style="left:993px;top:19px;font-size:15px;color:#fff;font-weight:700;letter-spacing:-0.167px;">Create</span>
<span class="t" style="left:1527px;top:18px;transform:translate(0.80px,0.00px);font-size:16px;color:#626f86;letter-spacing:-0.251px;">Search</span>
<span class="t" style="left:1741px;top:8px;transform:translate(0.80px,0.00px);font-size:13px;color:#fff;letter-spacing:0.186px;">9+</span>
<span class="t" style="left:58px;top:99px;transform:translate(0.70px,0.00px);font-size:15px;color:#172b4d;letter-spacing:0.262px;-webkit-text-stroke:0.6px;">Smart Issue Templates</span>
<span class="t" style="left:59px;top:161px;transform:translate(0.20px,0.00px);font-size:15.3px;color:#0c66e4;letter-spacing:-0.096px;">Hierarchies</span>
<span class="t" style="left:59px;top:205px;transform:translate(0.20px,0.00px);font-size:15.3px;color:#44546f;letter-spacing:-0.124px;">Templates</span>
<span class="t" style="left:59px;top:251px;transform:translate(0.20px,0.00px);font-size:15.3px;color:#44546f;letter-spacing:-0.472px;">Scopes</span>
<span class="t" style="left:59px;top:295px;transform:translate(0.20px,0.00px);font-size:15.3px;color:#44546f;letter-spacing:-0.703px;">Tags</span>
<span class="t" style="left:59px;top:341px;transform:translate(0.20px,0.00px);font-size:15.3px;color:#44546f;letter-spacing:-0.230px;">Checklists</span>
<span class="t" style="left:59px;top:385px;transform:translate(0.20px,0.00px);font-size:15.3px;color:#44546f;letter-spacing:-0.193px;">Variables</span>
<span class="t" style="left:59px;top:431px;transform:translate(0.20px,0.00px);font-size:15.3px;color:#44546f;letter-spacing:-0.210px;">Calendar</span>
<span class="t" style="left:59px;top:475px;transform:translate(0.20px,0.00px);font-size:15.3px;color:#44546f;letter-spacing:0.127px;">Getting Started</span>
<span class="t" style="left:92px;top:843px;transform:translate(0.20px,0.00px);font-size:13.5px;color:#44546f;letter-spacing:-0.138px;">AppsDelivered</span>
<span class="t" style="left:101px;top:874px;font-size:13.5px;color:#0c66e4;-webkit-text-stroke:0.45px;">Learn more</span>
<span class="t" style="left:293px;top:82px;transform:translate(0.70px,0.00px);font-size:27px;color:#172b4d;letter-spacing:-0.240px;-webkit-text-stroke:0.3px;">Manage Hierarchies</span>
<span class="t" style="left:1598px;top:81px;transform:translate(0.10px,0.00px);font-size:15px;color:#fff;font-weight:700;letter-spacing:-0.094px;">Set preinstalled</span>
<span class="t" style="left:1754px;top:82px;transform:translate(0.20px,0.00px);font-size:15.3px;color:#2c3e5d;letter-spacing:0.505px;-webkit-text-stroke:0.3px;">Import hierarchy</span>
<span class="t" style="left:1588px;top:157px;transform:translate(0.20px,0.00px);font-size:15.3px;color:#626f86;letter-spacing:-0.199px;">Search folders...</span>
<span class="t" style="left:1794px;top:157px;transform:translate(0.60px,0.00px);font-size:15.3px;color:#172b4d;letter-spacing:0.357px;-webkit-text-stroke:0.3px;">Add Folder</span>
<span class="t" style="left:432px;top:216px;transform:translate(0.20px,0.00px);font-size:15.5px;color:#172b4d;font-weight:700;letter-spacing:-0.204px;">All</span>
<span class="t" style="left:390px;top:252px;font-size:15.3px;color:#44546f;letter-spacing:-0.100px;">All</span>
<span class="t" style="left:553px;top:252px;font-size:12px;color:#44546f;font-weight:700;letter-spacing:0.320px;">30</span>
<span class="t" style="left:669px;top:217px;transform:translate(0.90px,0.00px);font-size:15.5px;color:#172b4d;font-weight:700;letter-spacing:0.265px;">Marketing</span>
<span class="t" style="left:626px;top:255px;transform:translate(0.80px,0.00px);font-size:15.3px;color:#44546f;letter-spacing:0.067px;">All</span>
<span class="t" style="left:797px;top:255px;transform:translate(0.60px,0.00px);font-size:12px;color:#44546f;font-weight:700;letter-spacing:0.112px;">0</span>
<span class="t" style="left:906px;top:217px;transform:translate(0.30px,0.00px);font-size:15.5px;color:#172b4d;font-weight:700;letter-spacing:0.042px;">Support</span>
<span class="t" style="left:863px;top:255px;transform:translate(0.20px,0.00px);font-size:15.3px;color:#44546f;letter-spacing:0.067px;">All</span>
<span class="t" style="left:1034px;top:255px;font-size:12px;color:#44546f;font-weight:700;letter-spacing:0.112px;">0</span>
<span class="t" style="left:1142px;top:217px;transform:translate(0.80px,0.00px);font-size:15.5px;color:#172b4d;font-weight:700;letter-spacing:0.151px;">Development</span>
<span class="t" style="left:1099px;top:255px;transform:translate(0.70px,0.00px);font-size:15.3px;color:#44546f;letter-spacing:0.067px;">All</span>
<span class="t" style="left:1270px;top:255px;transform:translate(0.50px,0.00px);font-size:12px;color:#44546f;font-weight:700;letter-spacing:0.112px;">0</span>
<span class="t" style="left:1379px;top:217px;transform:translate(0.20px,0.00px);font-size:15.5px;color:#172b4d;font-weight:700;letter-spacing:0.022px;">Organization</span>
<span class="t" style="left:1336px;top:255px;transform:translate(0.20px,0.00px);font-size:15.3px;color:#44546f;letter-spacing:0.067px;">All</span>
<span class="t" style="left:1507px;top:255px;font-size:12px;color:#44546f;font-weight:700;letter-spacing:0.112px;">0</span>
<span class="t" style="left:1615px;top:217px;transform:translate(0.70px,0.00px);font-size:15.5px;color:#172b4d;font-weight:700;letter-spacing:-0.048px;">Productivity</span>
<span class="t" style="left:1572px;top:255px;transform:translate(0.60px,0.00px);font-size:15.3px;color:#44546f;letter-spacing:0.067px;">All</span>
<span class="t" style="left:1743px;top:255px;transform:translate(0.40px,0.00px);font-size:12px;color:#44546f;font-weight:700;letter-spacing:0.112px;">0</span>
<span class="t" style="left:337px;top:487px;transform:translate(0.80px,0.00px);font-size:15.3px;color:#626f86;letter-spacing:-0.033px;">Select hierarchy name</span>
<span class="t" style="left:831px;top:487px;transform:translate(0.20px,0.00px);font-size:15.3px;color:#626f86;letter-spacing:0.027px;">Select tag</span>
<span class="t" style="left:1325px;top:487px;transform:translate(0.40px,0.00px);font-size:15.3px;color:#626f86;letter-spacing:-0.103px;">Select user</span>
<span class="t" style="left:1822px;top:488px;transform:translate(0.90px,0.00px);font-size:15.3px;color:#172b4d;letter-spacing:-0.272px;-webkit-text-stroke:0.3px;">Clear</span>
<span class="t" style="left:1677px;top:424px;transform:translate(0.90px,0.00px);font-size:13px;color:#172b4d;letter-spacing:-0.534px;">16</span>
<span class="t" style="left:1756px;top:425px;transform:translate(0.70px,0.00px);font-size:15px;color:#fff;font-weight:700;letter-spacing:-0.042px;">Add Hierarchy</span>
<span class="t" style="left:432px;top:571px;transform:translate(0.70px,0.00px);font-size:13.3px;color:#5e6c84;letter-spacing:0.129px;-webkit-text-stroke:0.4px;">Name</span>
<span class="t" style="left:946px;top:571px;transform:translate(0.90px,0.00px);font-size:13.3px;color:#5e6c84;letter-spacing:-0.273px;-webkit-text-stroke:0.4px;">Tags</span>
<span class="t" style="left:1166px;top:571px;transform:translate(0.90px,0.00px);font-size:13.3px;color:#5e6c84;letter-spacing:0.246px;-webkit-text-stroke:0.4px;">Owner</span>
<span class="t" style="left:1387px;top:571px;transform:translate(0.80px,0.00px);font-size:13.3px;color:#5e6c84;letter-spacing:-0.045px;-webkit-text-stroke:0.4px;">Created</span>
<span class="t" style="left:1563px;top:571px;transform:translate(0.90px,0.00px);font-size:13.3px;color:#5e6c84;letter-spacing:0.227px;-webkit-text-stroke:0.4px;">Actions</span>
<span class="t" style="left:433px;top:614px;transform:translate(0.20px,0.00px);font-size:15.5px;color:#0c66e4;letter-spacing:0.104px;-webkit-text-stroke:0.3px;">Weekly Progress Report</span>
<span class="t" style="left:1214px;top:614px;transform:translate(0.50px,0.00px);font-size:15.3px;color:#172b4d;letter-spacing:-0.142px;">Riley Venable</span>
<span class="t" style="left:1387px;top:614px;transform:translate(0.60px,0.00px);font-size:15.3px;color:#172b4d;letter-spacing:-0.293px;">02.08.24</span>
<span class="t" style="left:433px;top:668px;transform:translate(0.20px,0.00px);font-size:15.5px;color:#0c66e4;letter-spacing:0.227px;-webkit-text-stroke:0.3px;">Daily Report</span>
<span class="t" style="left:1214px;top:668px;transform:translate(0.50px,0.00px);font-size:15.3px;color:#172b4d;letter-spacing:-0.222px;">Farah Helali</span>
<span class="t" style="left:1182px;top:668px;transform:translate(0.10px,0.00px);font-size:11.5px;color:#fff;font-weight:700;letter-spacing:-0.372px;">FH</span>
<span class="t" style="left:1387px;top:668px;transform:translate(0.60px,0.00px);font-size:15.3px;color:#172b4d;letter-spacing:-0.293px;">09.08.24</span>
<span class="t" style="left:433px;top:721px;transform:translate(0.20px,0.00px);font-size:15.5px;color:#0c66e4;letter-spacing:0.274px;-webkit-text-stroke:0.3px;">Daily Scrum Meeting</span>
<span class="t" style="left:1214px;top:721px;transform:translate(0.50px,0.00px);font-size:15.3px;color:#172b4d;letter-spacing:-0.222px;">Farah Helali</span>
<span class="t" style="left:1182px;top:721px;transform:translate(0.10px,0.00px);font-size:11.5px;color:#fff;font-weight:700;letter-spacing:-0.372px;">FH</span>
<span class="t" style="left:1387px;top:721px;transform:translate(0.60px,0.00px);font-size:15.3px;color:#172b4d;letter-spacing:-0.293px;">09.08.24</span>
<span class="t" style="left:433px;top:775px;transform:translate(0.20px,0.00px);font-size:15.5px;color:#0c66e4;letter-spacing:0.234px;-webkit-text-stroke:0.3px;">Continuous Improvement Process</span>
<span class="t" style="left:1214px;top:775px;transform:translate(0.50px,0.00px);font-size:15.3px;color:#172b4d;letter-spacing:-0.222px;">Farah Helali</span>
<span class="t" style="left:1182px;top:775px;transform:translate(0.10px,0.00px);font-size:11.5px;color:#fff;font-weight:700;letter-spacing:-0.372px;">FH</span>
<span class="t" style="left:1387px;top:775px;transform:translate(0.60px,0.00px);font-size:15.3px;color:#172b4d;letter-spacing:-0.293px;">09.08.24</span>
<span class="t" style="left:433px;top:828px;transform:translate(0.20px,0.00px);font-size:15.5px;color:#0c66e4;letter-spacing:0.082px;-webkit-text-stroke:0.3px;">Testing</span>
<span class="t" style="left:1214px;top:828px;transform:translate(0.50px,0.00px);font-size:15.3px;color:#172b4d;letter-spacing:-0.222px;">Farah Helali</span>
<span class="t" style="left:1182px;top:828px;transform:translate(0.10px,0.00px);font-size:11.5px;color:#fff;font-weight:700;letter-spacing:-0.372px;">FH</span>
<span class="t" style="left:1387px;top:828px;transform:translate(0.60px,0.00px);font-size:15.3px;color:#172b4d;letter-spacing:-0.293px;">13.08.24</span>
<span class="t" style="left:433px;top:882px;transform:translate(0.20px,0.00px);font-size:15.5px;color:#0c66e4;letter-spacing:0.316px;-webkit-text-stroke:0.3px;">Marketing Campaign</span>
<span class="t" style="left:1214px;top:882px;transform:translate(0.50px,0.00px);font-size:15.3px;color:#172b4d;letter-spacing:-0.222px;">Farah Helali</span>
<span class="t" style="left:1182px;top:882px;transform:translate(0.10px,0.00px);font-size:11.5px;color:#fff;font-weight:700;letter-spacing:-0.372px;">FH</span>
<span class="t" style="left:1387px;top:882px;transform:translate(0.60px,0.00px);font-size:15.3px;color:#172b4d;letter-spacing:-0.293px;">13.08.24</span>
<span class="t" style="left:956px;top:667px;transform:translate(0.10px,0.00px);font-size:15.3px;color:#172b4d;letter-spacing:-0.516px;">Test</span>
<span class="t" style="left:956px;top:721px;transform:translate(0.30px,0.00px);font-size:15.3px;color:#533f04;letter-spacing:-0.278px;">DevOps</span>
<span class="t" style="left:1028px;top:721px;transform:translate(0.60px,0.00px);font-size:15.3px;color:#0c66e4;letter-spacing:0.203px;">Support</span>
<span class="t" style="left:956px;top:775px;font-size:15.3px;color:#ae2e24;letter-spacing:-0.555px;">QA</span>
<span class="t" style="left:995px;top:775px;transform:translate(0.50px,0.00px);font-size:15.3px;color:#0c66e4;letter-spacing:0.203px;">Support</span>
<span class="t" style="left:955px;top:881px;transform:translate(0.70px,0.00px);font-size:15.3px;color:#164555;letter-spacing:0.175px;">Advertising</span>
<span class="t" style="left:1052px;top:881px;transform:translate(0.80px,0.00px);font-size:15.3px;color:#5d1f1a;letter-spacing:0.259px;">Marketing</span>
</body></html>
